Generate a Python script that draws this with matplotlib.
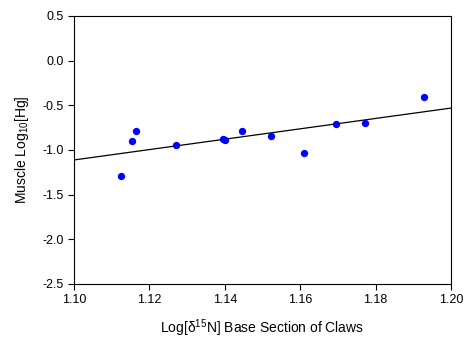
import numpy as np
import matplotlib
matplotlib.use("Agg")
import matplotlib.pyplot as plt

plt.rcParams['font.family'] = ['Liberation Sans', 'DejaVu Sans']
plt.rcParams['mathtext.default'] = 'regular'

# claw base d15N (log) vs muscle Hg (log10)
claw_n15 = [1.1125, 1.1155, 1.1164, 1.1271, 1.1396, 1.1401, 1.1445,
            1.1523, 1.1610, 1.1694, 1.1772, 1.1928]
muscle_hg = [-1.29, -0.90, -0.785, -0.945, -0.877, -0.889, -0.785,
             -0.847, -1.034, -0.706, -0.695, -0.407]

x_ticks = [1.10, 1.12, 1.14, 1.16, 1.18, 1.20]
y_ticks = [0.5, 0.0, -0.5, -1.0, -1.5, -2.0, -2.5]

fig = plt.figure(figsize=(4.65, 3.4), dpi=100)
ax = fig.add_axes([0.159, 0.165, 0.811, 0.788])

# regression line
slope, icpt = np.polyfit(claw_n15, muscle_hg, 1)
xl = np.array([1.10, 1.20])
ax.plot(xl, slope * xl + icpt, color='black', lw=0.9)

ax.scatter(claw_n15, muscle_hg, s=28, color='#0000ff', zorder=3, linewidths=0)

ax.set_xlim(1.10, 1.20)
ax.set_ylim(-2.5, 0.5)
ax.set_xticks(x_ticks)
ax.set_yticks(y_ticks)
ax.set_xticklabels(['%.2f' % v for v in x_ticks])
ax.set_yticklabels(['%.1f' % v for v in y_ticks])
ax.tick_params(direction='out', length=4, width=0.8, labelsize=9)
for s in ax.spines.values():
    s.set_linewidth(0.8)

ax.set_xlabel('Log[δ$^{15}$N] Base Section of Claws', fontsize=10, labelpad=8)
ax.set_ylabel('Muscle Log$_{10}$[Hg]', fontsize=10, labelpad=8)

fig.savefig('out.png', dpi=100)
